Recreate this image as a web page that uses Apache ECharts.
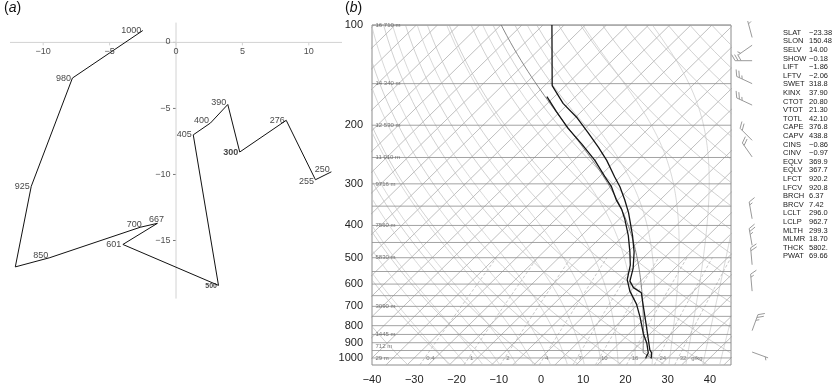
<!DOCTYPE html>
<html>
<head>
<meta charset="utf-8">
<script src="https://cdn.jsdelivr.net/npm/echarts@6/dist/echarts.min.js"></script>
<style>
html,body{margin:0;padding:0;background:#fff}
#chart{width:837px;height:385px}
</style>
</head>
<body>
<div id="chart"></div>
<script>
// (a) hodograph, wind components by pressure level ('' = unlabelled vertex)
const hodoLevel = ['1000', '980', '925', '', '850', '700', '667', '601', '500', '405', '400', '390', '300', '276', '255', '250'];
const hodoU = [-2.5, -7.8, -10.9, -12.1, -9.5, -2.7, -1.4, -4.0, 3.2, 1.3, 2.6, 3.9, 4.8, 8.3, 10.5, 11.7];
const hodoV = [0.9, -2.7, -10.9, -17.0, -16.3, -14.0, -13.7, -15.3, -18.4, -7.0, -6.1, -4.7, -8.3, -5.9, -10.4, -9.8];
const hodoTicksX = [-10, -5, 0, 5, 10];
const hodoTicksY = [-15, -10, -5, 0];

// (b) sounding: temperature and dew point (degC) by pressure (hPa)
const tempP = [100, 152, 172, 190, 211, 233, 255, 286, 306, 335, 366, 429, 480, 537, 588, 615, 637, 697, 807, 945, 966, 1003];
const tempT = [-77.9, -63.2, -56.3, -49.5, -43.2, -37.3, -32.2, -26.3, -22.7, -18.4, -14.4, -7.9, -3.6, 0.1, 2.5, 4.9, 8.0, 11.6, 17.5, 23.8, 25.0, 26.2];
const dewP = [164, 182, 204, 228, 255, 286, 306, 335, 358, 383, 429, 480, 526, 582, 630, 689, 754, 844, 903, 966, 989, 1003];
const dewT = [-61.8, -55.9, -49.2, -42.0, -35.0, -28.6, -24.7, -20.4, -16.8, -13.7, -8.9, -4.6, -1.3, 1.5, 4.9, 9.6, 13.6, 18.3, 21.5, 24.2, 24.6, 24.9];
const pressTicks = [100, 200, 300, 400, 500, 600, 700, 800, 900, 1000];
const tempTicks = [-40, -30, -20, -10, 0, 10, 20, 30, 40];

// heights of standard levels written inside the diagram
const heightP = [100, 150, 200, 250, 300, 400, 500, 700, 850, 925, 1000];
const heightLbl = ['16 710 m', '14 340 m', '12 530 m', '11 010 m', '9716 m', '7560 m', '5830 m', '3090 m', '1445 m', '712 m', '29 m'];

// saturation mixing ratio lines (g/kg)
const mixW = [0.4, 1, 2, 4, 7, 10, 16, 24, 32];

// wind barbs: pressure, direction (deg), speed (kt)
const barbP = [109, 115, 128, 150, 174, 222, 249, 382, 459, 525, 630, 828, 960];
const barbDir = [345, 235, 270, 295, 295, 315, 325, 350, 350, 355, 355, 20, 110];
const barbSpd = [5, 5, 30, 25, 25, 20, 20, 15, 25, 20, 15, 25, 5];

// stability indices
const indexNames = ['SLAT', 'SLON', 'SELV', 'SHOW', 'LIFT', 'LFTV', 'SWET', 'KINX', 'CTOT', 'VTOT', 'TOTL', 'CAPE', 'CAPV',
  'CINS', 'CINV', 'EQLV', 'EQLV', 'LFCT', 'LFCV', 'BRCH', 'BRCV', 'LCLT', 'LCLP', 'MLTH', 'MLMR', 'THCK', 'PWAT'];
const indexValues = ['\u221223.38', '150.48', '14.00', '\u22120.18', '\u22121.86', '\u22122.06', '318.8', '37.90', '20.80', '21.30', '42.10',
  '376.8', '438.8', '\u22120.86', '\u22120.97', '369.9', '367.7', '920.2', '920.8', '6.37', '7.42', '296.0', '962.7', '299.3', '18.70', '5802.', '69.66'];

const FONT = '"Liberation Sans", Arial, sans-serif';
const S = 80.5; // skew: degC per decade of pressure (45 deg isotherms)
const BARB_X = 50;

function skewX(t, p) { return t + S * Math.log10(1000 / p); }
function lp(p) { return Math.log10(p); }
function minus(v) { return v < 0 ? '\u2212' + Math.abs(v) : String(v); }

function esat(tc) { return 6.112 * Math.exp(17.67 * tc / (tc + 243.5)); }
function moistLapse(p, tc) {
  const tk = tc + 273.15;
  const es = esat(tc);
  const rs = 0.622 * es / (p - es);
  return (287.04 * tk + 2.501e6 * rs) / (p * (1005.7 + 2.501e6 * 2.501e6 * rs * 0.622 / (287.04 * tk * tk)));
}
function moistPath(p0, t0, pEnd) {
  const out = [[skewX(t0, p0), lp(p0)]];
  let p = p0, t = t0;
  while (p > pEnd) {
    const h = Math.max(-5, pEnd - p);
    const k1 = moistLapse(p, t);
    const k2 = moistLapse(p + h, t + h * k1);
    t += h * (k1 + k2) / 2;
    p += h;
    out.push([skewX(t, p), lp(p)]);
  }
  return out;
}
function pLevels(step) {
  const a = [];
  for (let p = 1050; p >= 100; p -= step) a.push(p);
  if (a[a.length - 1] !== 100) a.push(100);
  return a;
}

function bgLine(data, color, width, type, z) {
  return {
    type: 'line', xAxisIndex: 1, yAxisIndex: 1, data, symbol: 'none', silent: true, clip: true,
    lineStyle: {color, width, type: type || 'solid'}, z: z || 1, animation: false
  };
}
function textMarks(axis, data, label) {
  return {
    type: 'scatter', xAxisIndex: axis, yAxisIndex: axis, symbolSize: 1, silent: true, z: 6, animation: false,
    itemStyle: {color: 'rgba(0,0,0,0)'}, data,
    label: Object.assign({show: true, formatter: '{b}', fontFamily: FONT}, label)
  };
}

const series = [];

// isotherms
for (let t = -120; t <= 45; t += 5) {
  series.push(bgLine([[skewX(t, 1050), lp(1050)], [skewX(t, 100), lp(100)]], '#a4a4a4', 0.7));
}
// dry adiabats
for (let th = 230; th <= 460; th += 10) {
  series.push(bgLine(pLevels(10).map(p => [skewX(th * Math.pow(p / 1000, 0.2857) - 273.15, p), lp(p)]), '#bdbdbd', 0.7));
}
// moist adiabats
for (let t0 = -20; t0 <= 44; t0 += 4) {
  series.push(bgLine(moistPath(1050, t0, 100), '#c9c9c9', 0.7));
}
// mixing ratio lines
function mixTd(w, p) {
  const e = w * p / (622 + w);
  const l = Math.log(e / 6.112);
  return 243.5 * l / (17.67 - l);
}
mixW.forEach(w => {
  series.push(bgLine(pLevels(25).filter(p => p >= 500).map(p => [skewX(mixTd(w, p), p), lp(p)]), '#b0b0b0', 0.7, [3, 2]));
});
// isobars
for (let p = 100; p <= 1000; p += 50) {
  series.push(bgLine([[-40, lp(p)], [45, lp(p)]], '#8c8c8c', 0.8, 'solid', 2));
}

// lifted parcel: dry up to the LCL, then saturated
const lclP = parseFloat(indexValues[indexNames.indexOf('LCLP')]);
const lclT = parseFloat(indexValues[indexNames.indexOf('LCLT')]) - 273.15;
const thLcl = (lclT + 273.15) * Math.pow(1000 / lclP, 0.2857);
const parcel = [];
for (let p = tempP[tempP.length - 1]; p > lclP; p -= 5) {
  parcel.push([skewX(thLcl * Math.pow(p / 1000, 0.2857) - 273.15, p), lp(p)]);
}
series.push(bgLine(parcel.concat(moistPath(lclP, lclT, 100)), '#7a7a7a', 0.9, 'solid', 3));

// temperature and dew point
series.push({
  type: 'line', xAxisIndex: 1, yAxisIndex: 1, symbol: 'none', silent: true, z: 5, animation: false,
  data: tempP.map((p, i) => [skewX(tempT[i], p), lp(p)]),
  lineStyle: {color: '#151515', width: 1.3}
});
series.push({
  type: 'line', xAxisIndex: 1, yAxisIndex: 1, symbol: 'none', silent: true, z: 5, animation: false,
  data: dewP.map((p, i) => [skewX(dewT[i], p), lp(p)]),
  lineStyle: {color: '#151515', width: 1.3}
});

// height labels and mixing ratio labels
series.push(textMarks(1, heightP.map((p, i) => ({value: [-40, lp(p)], name: heightLbl[i]})),
  {position: 'right', distance: 3, fontSize: 6, color: '#555'}));
series.push(textMarks(1, mixW.map((w, i) => ({value: [skewX(mixTd(w, 1000), 1000), lp(1000)], name: String(w) + (i === mixW.length - 1 ? '   g/kg' : '')})),
  {position: 'right', distance: 1, fontSize: 6, color: '#666'}));

// wind barbs
series.push({
  type: 'custom', xAxisIndex: 1, yAxisIndex: 1, clip: false, silent: true, z: 6, animation: false,
  data: barbP.map((p, i) => [BARB_X, lp(p), barbDir[i], barbSpd[i]]),
  renderItem: function (params, api) {
    const base = api.coord([api.value(0), api.value(1)]);
    const d = api.value(2) * Math.PI / 180;
    const spd = api.value(3);
    const ux = Math.sin(d), uy = -Math.cos(d);
    const rx = -uy, ry = ux;
    const L = 17;
    const tip = [base[0] + ux * L, base[1] + uy * L];
    const st = {stroke: '#9a9a9a', lineWidth: 1};
    const kids = [{type: 'line', shape: {x1: base[0], y1: base[1], x2: tip[0], y2: tip[1]}, style: st}];
    let n = Math.floor(spd / 10), half = (spd % 10) >= 5;
    let k = 0;
    for (let j = 0; j < n; j++, k++) {
      const sx = tip[0] - ux * 3 * k, sy = tip[1] - uy * 3 * k;
      kids.push({type: 'line', shape: {x1: sx, y1: sy, x2: sx + (rx * 0.87 + ux * 0.5) * 7, y2: sy + (ry * 0.87 + uy * 0.5) * 7}, style: st});
    }
    if (half) {
      if (n === 0) k = 1;
      const sx = tip[0] - ux * 3 * k, sy = tip[1] - uy * 3 * k;
      kids.push({type: 'line', shape: {x1: sx, y1: sy, x2: sx + (rx * 0.87 + ux * 0.5) * 3.5, y2: sy + (ry * 0.87 + uy * 0.5) * 3.5}, style: st});
    }
    return {type: 'group', children: kids};
  }
});

// hodograph: axes through the origin, drawn in data space
const HX = [-12.5, 12.5], HY = [-19.4, 1.5];
const hodoAxisStyle = {color: '#d2d2d2', width: 1};
series.push({type: 'line', xAxisIndex: 0, yAxisIndex: 0, symbol: 'none', silent: true, animation: false, z: 1,
  data: [[HX[0], 0], [HX[1], 0]], lineStyle: hodoAxisStyle});
series.push({type: 'line', xAxisIndex: 0, yAxisIndex: 0, symbol: 'none', silent: true, animation: false, z: 1,
  data: [[0, HY[0]], [0, HY[1]]], lineStyle: hodoAxisStyle});
series.push({
  type: 'custom', xAxisIndex: 0, yAxisIndex: 0, clip: false, silent: true, animation: false, z: 1,
  data: hodoTicksX.map(v => [v, 0, 0]).concat(hodoTicksY.map(v => [0, v, 1])),
  renderItem: function (params, api) {
    const c = api.coord([api.value(0), api.value(1)]);
    const vert = api.value(2) === 0;
    return {type: 'line', shape: vert ? {x1: c[0], y1: c[1], x2: c[0], y2: c[1] + 3} : {x1: c[0] - 3, y1: c[1], x2: c[0], y2: c[1]},
      style: {stroke: vert ? '#d2d2d2' : '#777', lineWidth: 1}};
  }
});
series.push(textMarks(0, hodoTicksX.map(v => ({value: [v, 0], name: minus(v)})),
  {position: 'bottom', distance: 4, fontSize: 9, color: '#222'}));
series.push(textMarks(0, hodoTicksY.map(v => ({value: [0, v], name: minus(v), label: v === 0 ? {offset: [0, -1]} : {}})),
  {position: 'left', distance: 5, fontSize: 9, color: '#222'}));

// hodograph trace and level labels
series.push({
  type: 'line', xAxisIndex: 0, yAxisIndex: 0, symbol: 'none', silent: true, animation: false, z: 3,
  data: hodoU.map((u, i) => [u, hodoV[i]]),
  lineStyle: {color: '#111', width: 1}
});
const hodoLabelStyle = {
  '850': {offset: [0, -2]}, '700': {offset: [3, -3]}, '667': {offset: [8, -4]},
  '500': {offset: [0, 1], fontSize: 7, fontWeight: 'bold'}, '400': {offset: [0, -2]}, '390': {offset: [0, -2]},
  '300': {fontWeight: 'bold'}, '255': {offset: [0, 2]}, '250': {offset: [0, -2]}
};
series.push(textMarks(0,
  hodoU.map((u, i) => ({value: [u, hodoV[i]], name: hodoLevel[i], label: hodoLabelStyle[hodoLevel[i]] || {}}))
    .filter(d => d.name !== ''),
  {position: 'left', distance: 1, fontSize: 9, color: '#111'}));

const hiddenAxis = {show: false, splitLine: {show: false}};
const option = {
  animation: false,
  backgroundColor: '#fff',
  textStyle: {fontFamily: FONT},
  grid: [
    {left: 10, top: 22.6, width: 332, height: 276},
    {left: 372, top: 25, width: 359, height: 347.3, show: true, borderColor: '#8c8c8c', borderWidth: 1, backgroundColor: 'transparent'}
  ],
  xAxis: [
    Object.assign({gridIndex: 0, type: 'value', min: HX[0], max: HX[1]}, hiddenAxis),
    {
      gridIndex: 1, type: 'value', min: -40, max: 45,
      axisLine: {show: false}, axisTick: {show: false},
      axisLabel: {customValues: tempTicks, formatter: minus, fontSize: 11, color: '#222', margin: 9, fontFamily: FONT},
      splitLine: {show: false}
    }
  ],
  yAxis: [
    Object.assign({gridIndex: 0, type: 'value', min: HY[0], max: HY[1]}, hiddenAxis),
    {
      gridIndex: 1, type: 'value', min: 2, max: Math.log10(1050), inverse: true,
      axisLine: {show: false}, axisTick: {show: false},
      axisLabel: {
        customValues: pressTicks.map(lp),
        formatter: v => String(Math.round(Math.pow(10, v))), fontSize: 11, color: '#222', margin: 9, fontFamily: FONT
      },
      splitLine: {show: false}
    }
  ],
  graphic: [
    {type: 'text', left: 4, top: 1, style: {text: '({i|a})', font: '14px ' + FONT, fill: '#111', rich: {i: {fontStyle: 'italic', fontSize: 14, fontFamily: FONT}}}},
    {type: 'text', left: 345, top: 1, style: {text: '({i|b})', font: '14px ' + FONT, fill: '#111', rich: {i: {fontStyle: 'italic', fontSize: 14, fontFamily: FONT}}}},
    {type: 'text', left: 783, top: 28.5, style: {text: indexNames.join('\n'), font: '7.5px ' + FONT, lineHeight: 8.6, fill: '#222'}},
    {type: 'text', left: 809, top: 28.5, style: {text: indexValues.join('\n'), font: '7.5px ' + FONT, lineHeight: 8.6, fill: '#222'}}
  ],
  series
};

const chart = echarts.init(document.getElementById('chart'), null, {renderer: 'canvas'});
chart.setOption(option);
</script>
</body>
</html>
